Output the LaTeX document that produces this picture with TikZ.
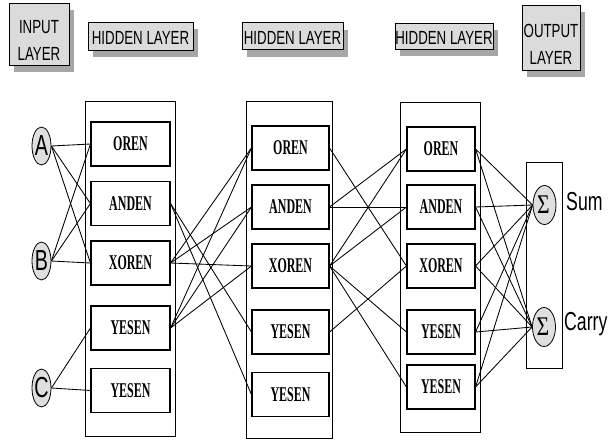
\documentclass[tikz,border=0pt]{standalone}
\usepackage{fontspec}
\setmainfont{Liberation Sans}
\newfontfamily\headfont[FakeStretch=0.7]{Liberation Sans}
\newfontfamily\unitfont[FakeStretch=0.57]{Liberation Serif}
\newfontfamily\sidefont[FakeStretch=0.68]{Liberation Sans}
\newfontfamily\sigmafont[FakeStretch=0.8]{Liberation Serif}
\usetikzlibrary{shapes.geometric,shadows}

\begin{document}
\begin{tikzpicture}[x=1pt,y=-1pt,
  header/.style={draw, line width=0.8pt, fill=gray!28, inner sep=0pt,
    drop shadow={shadow xshift=5pt, shadow yshift=-7pt, fill=gray!70, opacity=1}},
  headtext/.style={align=center, inner sep=0pt, yshift=-2pt,
    font=\headfont\fontsize{19}{27}\selectfont},
  frame/.style={draw, line width=0.9pt},
  unit/.style={draw, line width=1.1pt, rectangle, minimum height=44pt, inner sep=0pt,
    font=\unitfont\bfseries\fontsize{21}{21}\selectfont},
  uA/.style={unit, minimum width=79pt},
  uB/.style={unit, minimum width=77pt},
  uC/.style={unit, minimum width=68pt},
  inputnode/.style={draw, ellipse, line width=0.8pt, fill=gray!25, inner sep=0pt,
    minimum width=19pt, minimum height=38pt},
  sumnode/.style={draw, ellipse, line width=0.8pt, fill=gray!25, inner sep=0pt,
    minimum width=23pt, minimum height=39pt},
  letter/.style={font=\sidefont\fontsize{29}{29}\selectfont},
  sigma/.style={font=\sigmafont\fontsize{27}{27}\selectfont, xshift=-1pt},
  side/.style={font=\sidefont\fontsize{26}{26}\selectfont, anchor=west, inner sep=0pt},
  link/.style={line width=0.85pt}
]
\useasboundingbox (0,0) rectangle (615,440);

% layer headings
\node[header, minimum width=60pt, minimum height=62pt,
  label={[headtext, yshift=-4pt]center:INPUT\\LAYER}] (hin) at (39,34) {};
\node[header, minimum width=105pt, minimum height=28pt,
  label={[headtext]center:HIDDEN LAYER}] (hh1) at (140.5,36) {};
\node[header, minimum width=101pt, minimum height=27pt,
  label={[headtext]center:HIDDEN LAYER}] (hh2) at (292.5,36) {};
\node[header, minimum width=98pt, minimum height=26pt,
  label={[headtext]center:HIDDEN LAYER}] (hh3) at (444,36) {};
\node[header, minimum width=58pt, minimum height=65pt,
  label={[headtext, yshift=-5pt]center:OUTPUT\\LAYER}] (hout) at (551,37.5) {};

% layer frames
\draw[frame] (85,101) rectangle (175,436);
\draw[frame] (246,101) rectangle (332,438);
\draw[frame] (400,102) rectangle (480,432);
\draw[frame] (526,162) rectangle (562,368);

% input neurons
\node[inputnode, label={[letter]center:A}] (A) at (41.5,146) {};
\node[inputnode, label={[letter]center:B}] (B) at (41.5,261) {};
\node[inputnode, label={[letter]center:C}] (C) at (41.5,388) {};

% first hidden layer
\node[uA] (a1) at (130.5,144) {OREN};
\node[uA] (a2) at (130.5,203.5) {ANDEN};
\node[uA] (a3) at (130.5,263) {XOREN};
\node[uA] (a4) at (130.5,328) {YESEN};
\node[uA] (a5) at (130.5,390.5) {YESEN};

% second hidden layer
\node[uB] (b1) at (290.5,148) {OREN};
\node[uB] (b2) at (290.5,207) {ANDEN};
\node[uB] (b3) at (290.5,266) {XOREN};
\node[uB] (b4) at (290.5,332) {YESEN};
\node[uB] (b5) at (290.5,394.5) {YESEN};

% third hidden layer
\node[uC] (c1) at (441,149) {OREN};
\node[uC] (c2) at (441,207) {ANDEN};
\node[uC] (c3) at (441,266) {XOREN};
\node[uC] (c4) at (441,332) {YESEN};
\node[uC] (c5) at (441,387) {YESEN};

% output neurons
\node[sumnode, label={[sigma]center:Σ}] (S) at (544.5,205) {};
\node[sumnode, label={[sigma]center:Σ}] (K) at (544,327) {};
\node[side] (sumtxt) at (566,202) {Sum};
\node[side] (carrytxt) at (564,324) {Carry};

% input -> first hidden layer
\foreach \s/\t in {A/a1, A/a2, A/a3, B/a1, B/a2, B/a3, C/a4, C/a5}
  \draw[link] (\s.east) -- (\t.west);
% first -> second hidden layer
\foreach \s/\t in {a2/b4, a2/b5, a3/b1, a3/b2, a3/b3, a4/b1, a4/b2, a4/b3}
  \draw[link] (\s.east) -- (\t.west);
% second -> third hidden layer
\foreach \s/\t in {b1/c3, b2/c1, b2/c2, b3/c1, b3/c2, b3/c4, b3/c5, b4/c3}
  \draw[link] (\s.east) -- (\t.west);
% third hidden layer -> outputs
\foreach \s in {c1,c2,c3,c4,c5} {
  \draw[link] (\s.east) -- (S.west);
  \draw[link] (\s.east) -- (K.west);
}
\end{tikzpicture}
\end{document}
